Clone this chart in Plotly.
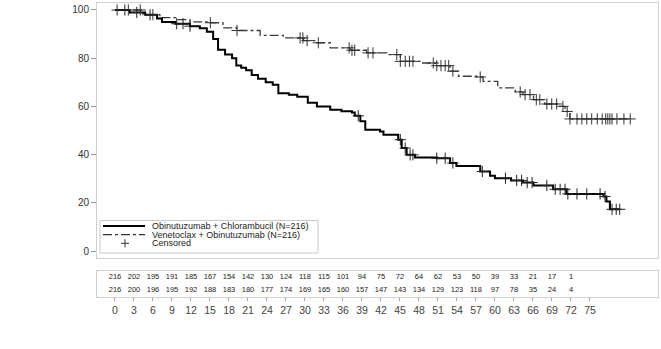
import plotly.graph_objects as go

# ---------------- data ----------------
# Obinutuzumab + Chlorambucil (solid) : step curve, months / survival %
clb_t = [0, 2.1, 4.3, 6.0, 6.7, 8.6, 10.7, 12.1, 13.1, 14.0, 14.7, 15.7, 16.7, 17.3,
         18.0, 18.7, 19.5, 20.4, 21.5, 22.5, 23.3, 24.8, 26.0, 27.5, 28.8, 30.7, 32.3,
         33.8, 34.2, 35.0, 35.7, 37.8, 38.3, 40.4, 40.9, 41.6, 42.8, 45.9, 47.8, 48.7,
         52.1, 53.5, 54.2, 56.5, 58.2, 59.7, 62.5, 64.4, 69.7, 70.1, 70.6, 72.0]
clb_s = [100, 99.0, 98.0, 96.5, 95.0, 94.3, 93.3, 92.4, 91.0, 88.0, 83.5, 81.5, 80.0, 77.0,
         76.0, 75.0, 73.0, 71.5, 70.0, 69.0, 65.5, 64.8, 64.0, 61.5, 60.0, 58.6, 58.0,
         57.5, 56.1, 53.8, 50.3, 49.6, 48.2, 46.2, 42.7, 39.9, 38.8, 38.5, 36.5, 35.3,
         33.0, 31.2, 30.2, 29.3, 28.4, 27.2, 25.6, 23.7, 22.6, 20.5, 17.3, 17.3]
clb_cens = [1.4, 3.1, 5.0, 8.8, 9.7, 10.7, 34.7, 40.7, 41.4, 42.1, 42.5, 45.9, 47.1, 48.2,
            52.4, 55.7, 57.3, 58.0, 58.8, 59.5, 61.6, 62.8, 63.5, 64.2, 64.6, 65.9, 67.3,
            69.2, 69.9, 70.9, 71.5, 72.0]

# Venetoclax + Obinutuzumab (dash-dot)
ven_t = [0, 4.0, 6.4, 8.8, 10.7, 13.6, 15.4, 17.4, 20.7, 24.0, 26.9, 28.8, 30.7, 33.5,
         35.9, 38.8, 40.7, 43.5, 45.9, 47.8, 49.0, 51.6, 52.5, 54.6, 57.1, 58.2, 59.7,
         61.3, 63.2, 64.2, 64.9, 73.5]
ven_s = [100, 98.1, 96.8, 96.0, 95.1, 94.7, 92.6, 91.5, 89.5, 88.4, 87.3, 86.4, 84.3, 83.3,
         82.2, 81.5, 78.7, 78.0, 76.9, 74.6, 72.5, 72.2, 70.4, 67.7, 66.0, 64.9, 62.8,
         61.0, 60.0, 57.9, 54.8, 54.8]
ven_cens = [0.3, 1.9, 3.6, 5.4, 13.6, 17.4, 26.4, 26.8, 27.4, 29.0, 33.4, 33.8, 34.2, 36.1,
            36.8, 40.2, 40.7, 41.4, 42.0, 42.5, 45.4, 45.9, 46.5, 47.1, 47.6, 48.2, 52.1,
            57.8, 58.5, 59.2, 60.1, 60.6, 61.6, 62.3, 63.0, 63.9, 64.5, 64.9, 65.9, 66.6,
            67.3, 68.0, 68.8, 69.5, 70.0, 70.3, 70.6, 70.9, 71.6, 72.6, 73.5]

# numbers at risk
risk_times = list(range(0, 75, 3))
clb_risk = [216, 202, 195, 191, 185, 167, 154, 142, 130, 124, 118, 115, 101, 94, 75, 72,
            64, 62, 53, 50, 39, 33, 21, 17, 1]
ven_risk = [216, 200, 196, 195, 192, 188, 183, 180, 177, 174, 169, 165, 160, 157, 147, 143,
            134, 129, 123, 118, 97, 78, 35, 24, 4]
axis_ticks = list(range(0, 78, 3))

legend_labels = ["Obinutuzumab + Chlorambucil (N=216)",
                 "Venetoclax + Obinutuzumab (N=216)",
                 "Censored"]


def step_at(ts, ss, c):
    v = ss[0]
    for t, s in zip(ts, ss):
        if t <= c:
            v = s
    return v


FONT = "Liberation Sans, Arial, sans-serif"
W, H = 661, 349
L, R, T, B = 97, 3, 3, 52
PW, PH = W - L - R, H - T - B


def px(x):
    return (x - L) / PW


def py(y):
    return (H - B - y) / PH


fig = go.Figure()

fig.add_trace(go.Scatter(x=ven_t, y=ven_s, mode="lines", line_shape="hv",
                         line=dict(color="#3a3a3a", width=1.3, dash="dashdot"),
                         showlegend=False, hoverinfo="skip"))
fig.add_trace(go.Scatter(x=clb_t, y=clb_s, mode="lines", line_shape="hv",
                         line=dict(color="#000000", width=2),
                         showlegend=False, hoverinfo="skip"))
fig.add_trace(go.Scatter(x=ven_cens, y=[step_at(ven_t, ven_s, c) for c in ven_cens],
                         mode="markers",
                         marker=dict(symbol="cross-thin", size=8,
                                     line=dict(color="#333333", width=1)),
                         showlegend=False, hoverinfo="skip"))
fig.add_trace(go.Scatter(x=clb_cens, y=[step_at(clb_t, clb_s, c) for c in clb_cens],
                         mode="markers",
                         marker=dict(symbol="cross-thin", size=8,
                                     line=dict(color="#222222", width=1)),
                         showlegend=False, hoverinfo="skip"))

# at-risk table
fig.add_trace(go.Scatter(x=risk_times, y=[1] * len(risk_times), mode="text",
                         text=[str(v) for v in clb_risk], xaxis="x2", yaxis="y2",
                         textfont=dict(size=7.5, color="#222222", family=FONT),
                         showlegend=False, hoverinfo="skip"))
fig.add_trace(go.Scatter(x=risk_times, y=[0] * len(risk_times), mode="text",
                         text=[str(v) for v in ven_risk], xaxis="x2", yaxis="y2",
                         textfont=dict(size=7.5, color="#222222", family=FONT),
                         showlegend=False, hoverinfo="skip"))

frame = "#d0d0d0"
main_bottom = py(258)
table_top = py(270.5)

fig.update_layout(
    width=W, height=H,
    margin=dict(l=L, r=R, t=T, b=B, pad=0),
    paper_bgcolor="white", plot_bgcolor="white",
    font=dict(family=FONT, color="#333333"),
    showlegend=False,
    xaxis=dict(domain=[0, 1], anchor="y", range=[-2.57, 77.46],
               showticklabels=False, ticks="", showgrid=False, zeroline=False,
               showline=True, mirror=True, linecolor=frame, linewidth=1),
    yaxis=dict(domain=[main_bottom, 1], anchor="x", range=[-2.9, 102.9],
               tickvals=[0, 20, 40, 60, 80, 100], ticks="outside", ticklen=5,
               tickcolor="#999999", tickfont=dict(size=10, color="#333333"),
               showgrid=False, zeroline=False,
               showline=True, mirror=True, linecolor=frame, linewidth=1),
    xaxis2=dict(domain=[0, 1], anchor="y2", range=[-2.84, 85.74],
                tickvals=axis_ticks, ticktext=[str(v) for v in axis_ticks],
                ticks="outside", ticklen=3, tickcolor="#aaaaaa",
                tickfont=dict(size=10.5, color="#444444"),
                showgrid=False, zeroline=False,
                showline=True, mirror=True, linecolor=frame, linewidth=1),
    yaxis2=dict(domain=[0, table_top], anchor="x2", range=[-0.52, 1.48],
                showticklabels=False, ticks="", showgrid=False, zeroline=False,
                showline=True, mirror=True, linecolor=frame, linewidth=1),
)

# manual legend box
shapes = [
    dict(type="rect", xref="paper", yref="paper", x0=px(100), x1=px(318),
         y0=py(253), y1=py(220.5), line=dict(color="#c8c8c8", width=1),
         fillcolor="white", layer="above"),
    dict(type="line", xref="paper", yref="paper", x0=px(103), x1=px(145),
         y0=py(226), y1=py(226), line=dict(color="#000000", width=2)),
    dict(type="line", xref="paper", yref="paper", x0=px(103), x1=px(145),
         y0=py(234.7), y1=py(234.7), line=dict(color="#333333", width=1.3, dash="dashdot")),
    dict(type="line", xref="paper", yref="paper", x0=px(121), x1=px(129),
         y0=py(243.3), y1=py(243.3), line=dict(color="#333333", width=1)),
    dict(type="line", xref="paper", yref="paper", x0=px(125), x1=px(125),
         y0=py(239.3), y1=py(247.3), line=dict(color="#333333", width=1)),
]
fig.update_layout(shapes=shapes)

for lab, yy in zip(legend_labels, [226, 234.7, 243.3]):
    fig.add_annotation(x=px(150), y=py(yy), xref="paper", yref="paper",
                       text=lab, showarrow=False, xanchor="left", yanchor="middle",
                       font=dict(size=9, color="#222222", family=FONT))

fig.write_html("out.html")
